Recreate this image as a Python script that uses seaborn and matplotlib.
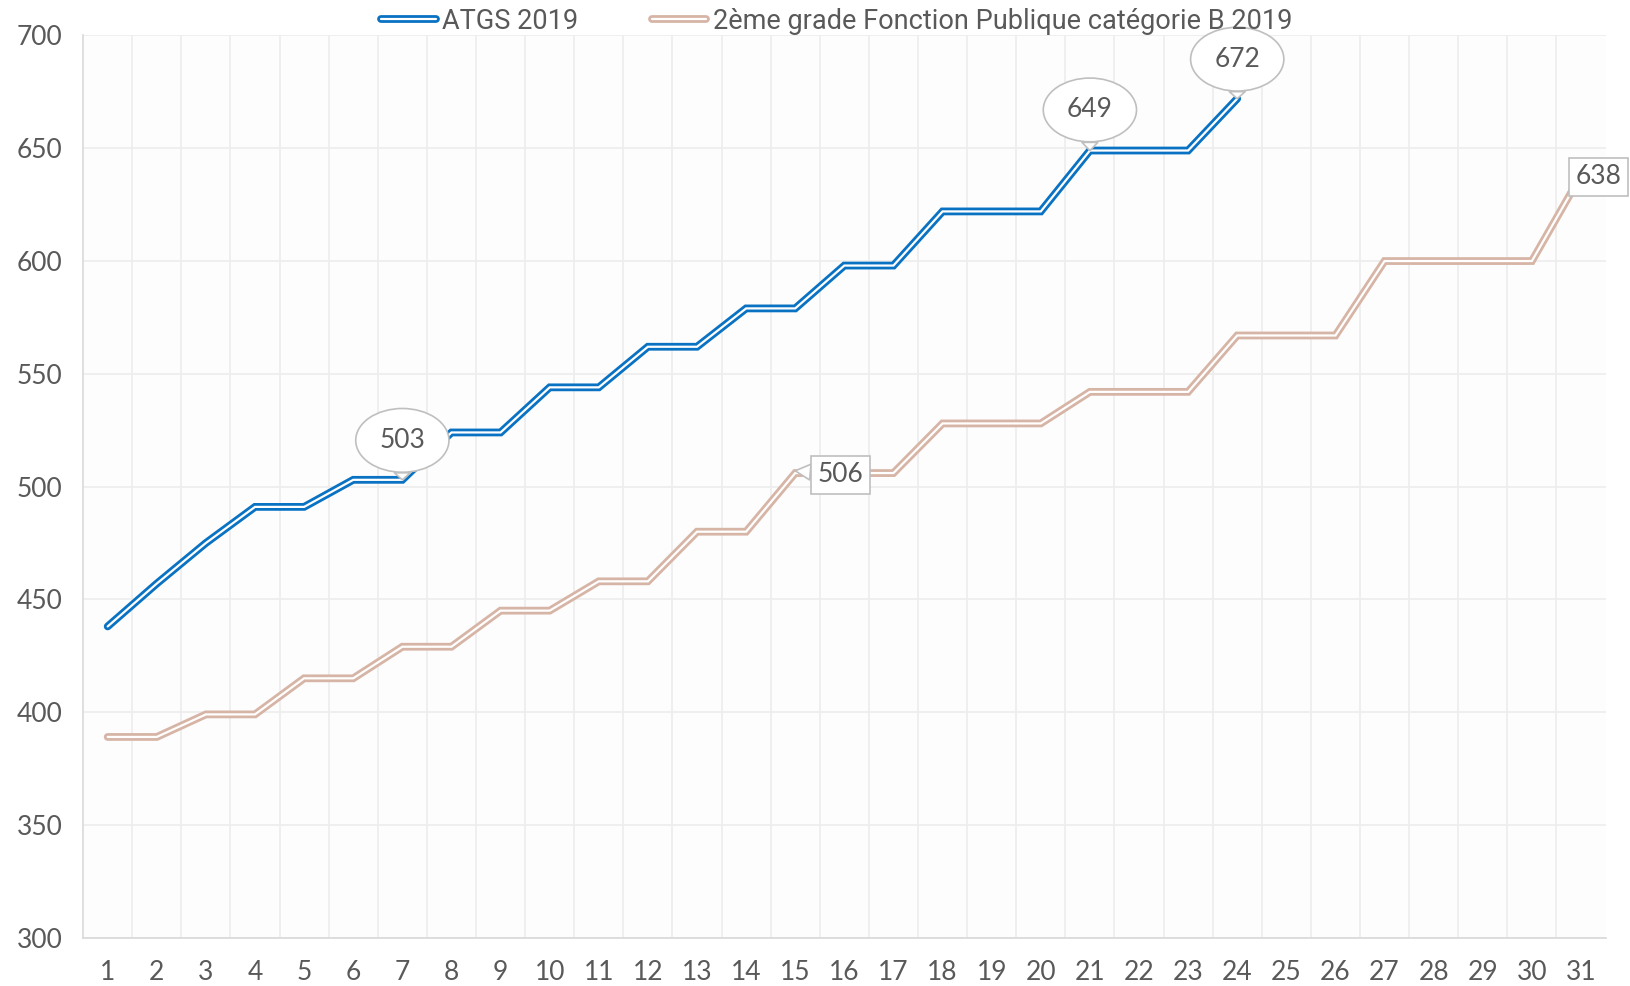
import numpy as np
import pandas as pd
import matplotlib
matplotlib.use("Agg")
import matplotlib.pyplot as plt
import matplotlib.patheffects as pe
from matplotlib import font_manager
from matplotlib.lines import Line2D
import seaborn as sns

# ---- data ----
steps = list(range(1, 32))
atgs_steps = list(range(1, 25))
atgs_2019 = [438, 457, 475, 491, 491, 503, 503, 524, 524, 544, 544, 562, 562,
             579, 579, 598, 598, 622, 622, 622, 649, 649, 649, 672]
fpb_2019 = [389, 389, 399, 399, 415, 415, 429, 429, 445, 445, 458, 458, 480,
            480, 506, 506, 506, 528, 528, 528, 542, 542, 542, 567, 567, 567,
            600, 600, 600, 600, 638]
series_names = ["ATGS 2019", "2ème grade Fonction Publique catégorie B 2019"]
y_ticks = [300, 350, 400, 450, 500, 550, 600, 650, 700]

blue = "#0A72C2"
pink = "#D7B5A6"

sns.set_theme(style="white")
avail = {f.name for f in font_manager.fontManager.ttflist}
num_font = "Lato" if "Lato" in avail else "DejaVu Sans"
leg_font = "Roboto" if "Roboto" in avail else "DejaVu Sans"
plt.rcParams["font.family"] = [num_font, "DejaVu Sans"]

df = pd.concat([
    pd.DataFrame({"step": atgs_steps, "val": atgs_2019, "serie": series_names[0]}),
    pd.DataFrame({"step": steps, "val": fpb_2019, "serie": series_names[1]}),
])

fig = plt.figure(figsize=(16.3, 9.86), dpi=100)
ax = fig.add_axes([0.051, 0.049, 0.934, 0.915])
ax.set_facecolor("#FDFDFD")

sns.lineplot(data=df, x="step", y="val", hue="serie",
             palette={series_names[0]: blue, series_names[1]: pink},
             ax=ax, legend=False, zorder=3)

for line, col in zip(ax.lines, [blue, pink]):
    line.set_color("white")
    line.set_linewidth(1.6)
    line.set_solid_joinstyle("miter")
    line.set_path_effects([pe.Stroke(linewidth=5.6, foreground=col, joinstyle="miter"),
                           pe.Normal()])

ax.set_xlim(0.5, 31.5)
ax.set_ylim(300, 700)
ax.set_xticks(steps)
ax.set_xticklabels([str(s) for s in steps])
ax.set_xticks(np.arange(1.5, 31.5, 1.0), minor=True)
ax.set_yticks(y_ticks)
ax.grid(False)
ax.grid(True, which="minor", axis="x", color="#EDEDED", lw=1.2)
ax.grid(True, which="major", axis="y", color="#EDEDED", lw=1.2)
ax.set_axisbelow(True)
ax.tick_params(axis="both", which="both", length=0, labelsize=19, colors="#595959")
ax.tick_params(axis="x", pad=16)
for lab in ax.get_yticklabels():
    lab.set_horizontalalignment("left")
ax.yaxis.set_tick_params(pad=48)
ax.set_xlabel("")
ax.set_ylabel("")
for s in ["top", "right"]:
    ax.spines[s].set_visible(False)
for s in ["left", "bottom"]:
    ax.spines[s].set_color("#D9D9D9")
    ax.spines[s].set_linewidth(1.2)

# legend
handles = []
for col in [blue, pink]:
    h = Line2D([0], [0], color="white", lw=1.6,
               path_effects=[pe.Stroke(linewidth=5.6, foreground=col), pe.Normal()])
    handles.append(h)
leg = ax.legend(handles, series_names, loc="upper center", bbox_to_anchor=(0.495, 1.058),
                ncol=2, frameon=False, handlelength=2.0, handletextpad=0.25,
                columnspacing=2.7, prop={"family": [leg_font, "DejaVu Sans"], "size": 19.5})
for t in leg.get_texts():
    t.set_color("#595959")

# callouts
def callout(x, y, tx, ty, text, style):
    ax.annotate(text, xy=(x, y), xytext=(tx, ty), ha="center", va="center",
                fontsize=19, color="#595959", annotation_clip=False, zorder=5,
                bbox=dict(boxstyle=style, fc="white", ec="#BFBFBF", lw=1.2),
                arrowprops=dict(arrowstyle="wedge,tail_width=0.6,shrink_factor=0.5",
                                fc="white", ec="#BFBFBF", lw=1.2, shrinkA=0, shrinkB=0))

callout(7, atgs_2019[6], 7, 520.5, str(atgs_2019[6]), "ellipse,pad=0.38")
callout(21, atgs_2019[20], 21, 667, str(atgs_2019[20]), "ellipse,pad=0.38")
callout(24, atgs_2019[23], 24, 689.5, str(atgs_2019[23]), "ellipse,pad=0.38")
callout(15, fpb_2019[14] + 1, 15.92, 505.3, str(fpb_2019[14]), "square,pad=0.25")
callout(31, fpb_2019[30], 31.36, 637.4, str(fpb_2019[30]), "square,pad=0.25")

fig.savefig("out.png", dpi=100, facecolor="white")
